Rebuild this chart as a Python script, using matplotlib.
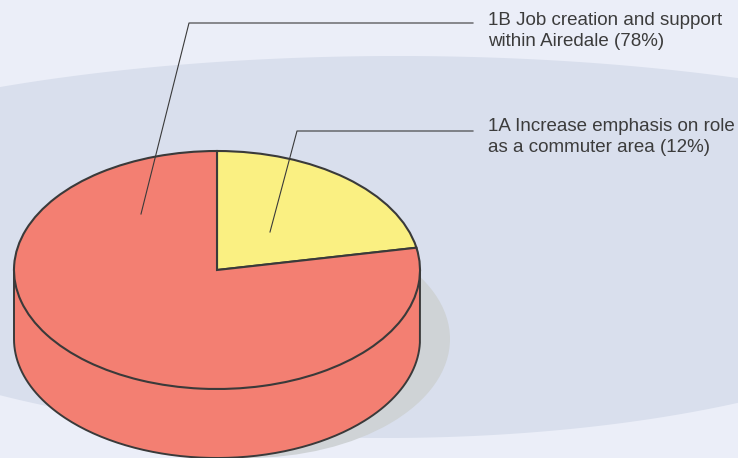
import numpy as np
import matplotlib
matplotlib.use('Agg')
import matplotlib.pyplot as plt
from matplotlib.patches import Ellipse, Polygon

plt.rcParams['font.family'] = ['Liberation Sans', 'DejaVu Sans']

W, H = 738, 458

# Survey options. 1A takes whatever part of the disc 1B leaves.
share_1b = 78
share_1a = 100 - share_1b
label_1b = '1B Job creation and support\nwithin Airedale (78%)'
label_1a = '1A Increase emphasis on role\nas a commuter area (12%)'

RED = '#f37f72'
YELLOW = '#faf082'
EDGE = '#3a3a3a'
BG = '#ebeef8'
BAND = '#d9dfed'
SHADOW = '#cfd3d6'

# disc geometry in pixels
cx, cy = 217, 270
rx, ry = 203, 119
depth = 69

fig = plt.figure(figsize=(W / 100, H / 100), dpi=100, facecolor=BG)
ax = fig.add_axes([0, 0, 1, 1])
ax.set_xlim(0, W)
ax.set_ylim(H, 0)
ax.axis('off')

# pale band behind the pie, top and bottom edges are different curves
x_top = np.linspace(0, W, 200)
y_top = 248 - 192 * np.sqrt(1 - ((x_top - 398) / 730) ** 2)
x_bot = np.linspace(W, 0, 200)
y_bot = 248 + 190 * np.sqrt(np.clip(1 - ((x_bot - 385) / 609) ** 2, 0, 1))
ax.add_patch(Polygon(np.vstack([np.c_[x_top, y_top], np.c_[x_bot, y_bot]]),
                     closed=True, fc=BAND, ec='none', zorder=1))

# drop shadow
ax.add_patch(Ellipse((cx + 30, cy + depth), 2 * rx, 2 * ry, fc=SHADOW, ec='none', zorder=2))

# side wall of the cylinder
t = np.linspace(0, np.pi, 200)
wall_x = cx + rx * np.cos(t)
wall_y = cy + depth + ry * np.sin(t)
wall = np.vstack([[[cx + rx, cy]], np.c_[wall_x, wall_y], [[cx - rx, cy]]])
ax.add_patch(Polygon(wall, closed=True, fc=RED, ec='none', zorder=3))
ax.plot(wall[:, 0], wall[:, 1], color=EDGE, lw=1.4, zorder=4)

# top of the cylinder, a real pie squeezed into an ellipse by its axes box
pie_ax = fig.add_axes([(cx - rx) / W, 1 - (cy + ry) / H, 2 * rx / W, 2 * ry / H])
wedges, _ = pie_ax.pie([share_1a, share_1b], colors=[YELLOW, RED], startangle=90,
                       counterclock=False, radius=1,
                       wedgeprops={'edgecolor': EDGE, 'linewidth': 1.5})
pie_ax.set_aspect('auto')
pie_ax.set_xlim(-1, 1)
pie_ax.set_ylim(-1, 1)
pie_ax.patch.set_alpha(0)
for w in wedges:
    w.set_clip_on(False)

# leader lines, drawn over the pie
over = fig.add_axes([0, 0, 1, 1])
over.set_xlim(0, W)
over.set_ylim(H, 0)
over.axis('off')
over.plot([141, 189, 473], [214, 23, 23], color=EDGE, lw=0.8)
over.plot([270, 297, 473], [232, 131, 131], color=EDGE, lw=0.8)

over.text(488.5, 31, label_1b, fontsize=13.5, color='#3c3c3c', va='center', ha='left', linespacing=1.3)
over.text(488.5, 137, label_1a, fontsize=13.5, color='#3c3c3c', va='center', ha='left', linespacing=1.3)

fig.savefig('out.png', dpi=100, facecolor=BG)
